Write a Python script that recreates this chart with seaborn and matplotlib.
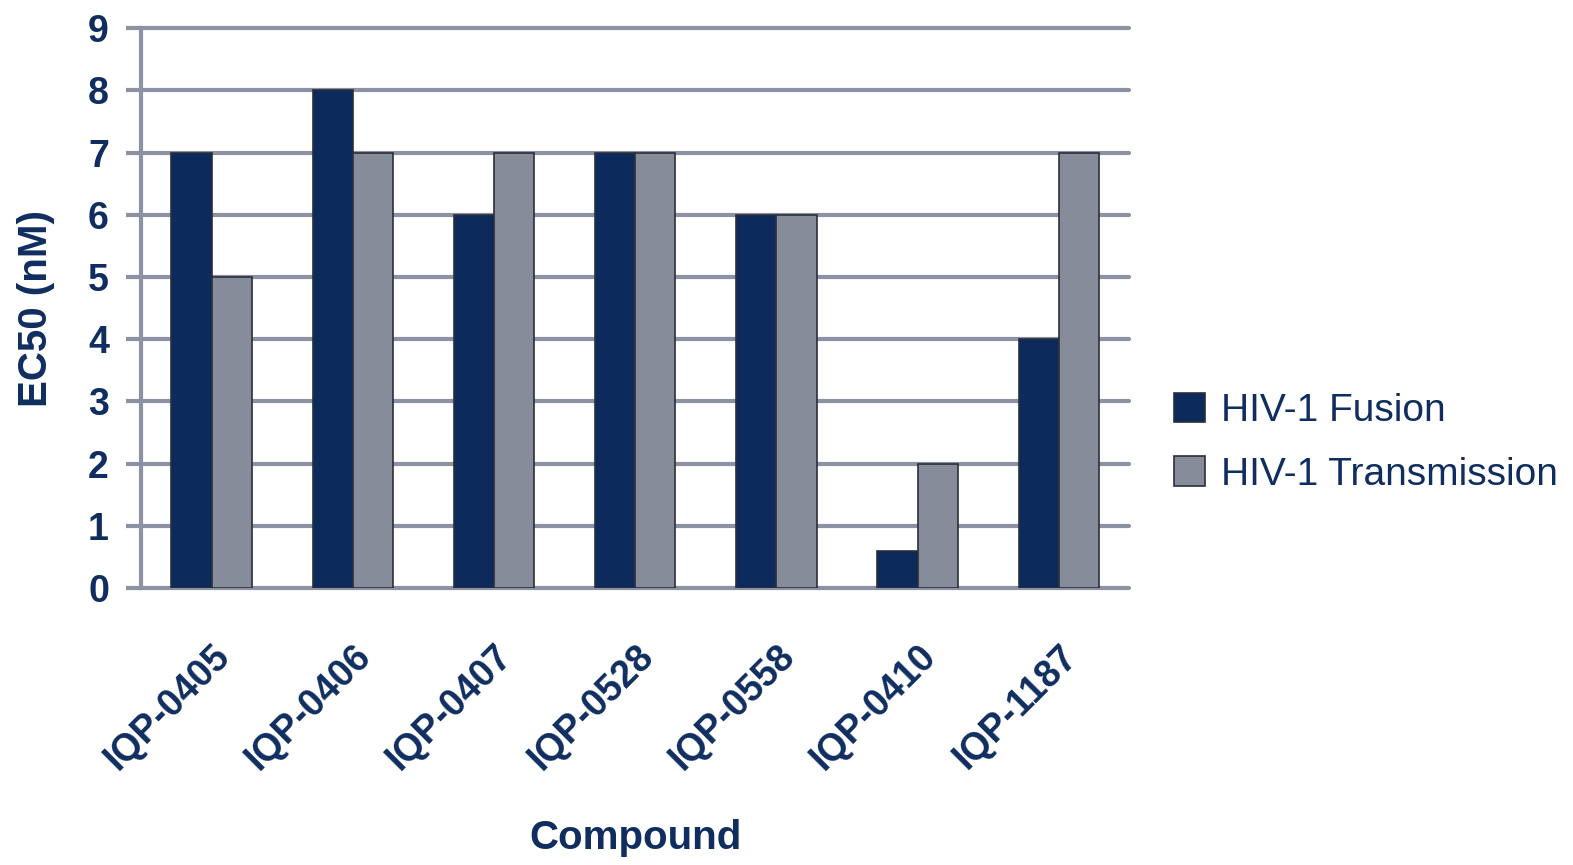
import pandas as pd
import numpy as np
import matplotlib
matplotlib.use("Agg")
import matplotlib.pyplot as plt
import seaborn as sns

compounds = ["IQP-0405", "IQP-0406", "IQP-0407", "IQP-0528", "IQP-0558", "IQP-0410", "IQP-1187"]
fusion = [7, 8, 6, 7, 6, 0.6, 4]
transmission = [5, 7, 7, 7, 6, 2, 7]
series = ["HIV-1 Fusion", "HIV-1 Transmission"]

df = pd.DataFrame({
    "Compound": compounds * 2,
    "EC50": fusion + transmission,
    "Assay": [series[0]] * len(compounds) + [series[1]] * len(compounds),
})

sns.set_style("white")
plt.rcParams["font.family"] = ["Liberation Sans Narrow", "Liberation Sans", "DejaVu Sans"]
navy = "#0f2d5f"
grid_c = "#8c91a3"

fig = plt.figure(figsize=(15.73, 8.65), dpi=100)
ax = fig.add_axes([0.0896, 0.320, 0.6284, 0.6476])

sns.barplot(
    data=df, x="Compound", y="EC50", hue="Assay",
    palette=["#0c2a5c", "#878c9b"], width=0.57, saturation=1,
    edgecolor="#2a2f3a", linewidth=1.2, ax=ax, zorder=3,
)

ax.set_ylim(0, 9)
ax.set_yticks(range(0, 10))
ax.grid(axis="y", color=grid_c, linewidth=3, zorder=0)
ax.set_axisbelow(True)
for gl in ax.get_ygridlines():
    gl.set_clip_on(False)
for s in ["top", "right", "bottom"]:
    ax.spines[s].set_visible(False)
ax.spines["left"].set_color(grid_c)
ax.spines["left"].set_linewidth(3)
ax.tick_params(axis="y", left=True, length=11, width=3, color=grid_c, pad=12,
               labelsize=27, labelcolor=navy)
ax.tick_params(axis="x", bottom=False, length=0, pad=36, labelsize=27, labelcolor=navy)
for lab in ax.get_yticklabels():
    lab.set_fontweight("bold")
plt.setp(ax.get_xticklabels(), rotation=45, ha="right", rotation_mode="anchor",
         fontweight="bold")

ax.set_xlabel("Compound", fontsize=29, fontweight="bold", color=navy, labelpad=30)
ax.set_ylabel("EC50 (nM)", fontsize=29, fontweight="bold", color=navy, labelpad=24)

leg = ax.legend(loc="center left", bbox_to_anchor=(1.01, 0.26), frameon=False,
                fontsize=28, handlelength=0.8, handleheight=0.8,
                handletextpad=0.4, labelspacing=0.7)
for t in leg.get_texts():
    t.set_color(navy)

fig.savefig("out.png", dpi=100)
